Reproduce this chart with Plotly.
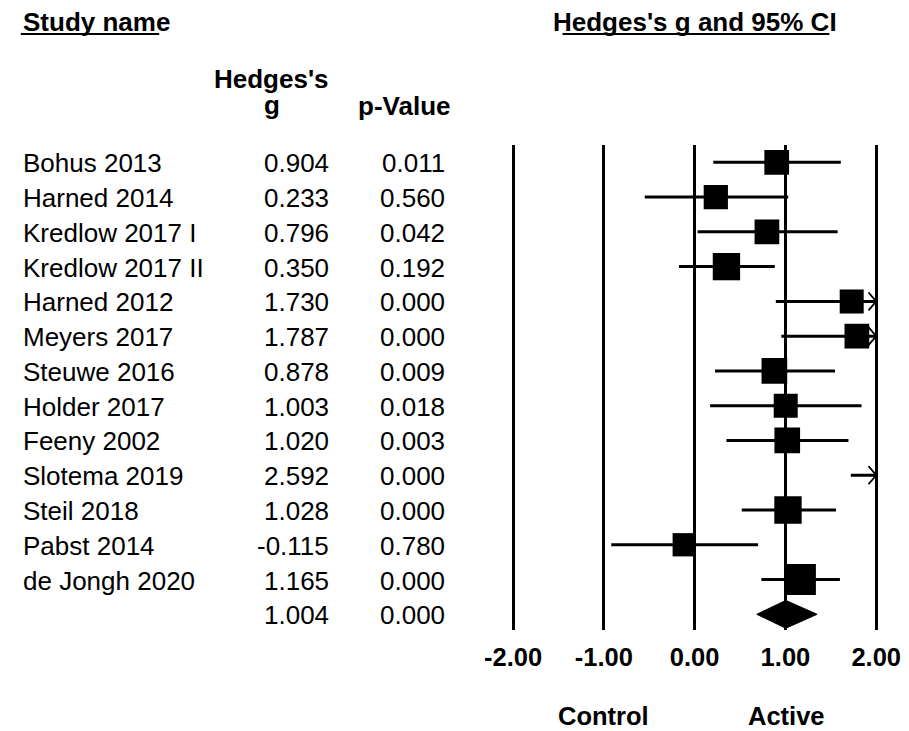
import plotly.graph_objects as go

# ---------------- data ----------------
studies = ["Bohus 2013", "Harned 2014", "Kredlow 2017 I", "Kredlow 2017 II",
           "Harned 2012", "Meyers 2017", "Steuwe 2016", "Holder 2017",
           "Feeny 2002", "Slotema 2019", "Steil 2018", "Pabst 2014",
           "de Jongh 2020"]
hedges_g = [0.904, 0.233, 0.796, 0.350, 1.730, 1.787, 0.878, 1.003,
            1.020, 2.592, 1.028, -0.115, 1.165]
p_values = [0.011, 0.560, 0.042, 0.192, 0.000, 0.000, 0.009, 0.018,
            0.003, 0.000, 0.000, 0.780, 0.000]
ci_lower = [0.205, -0.55, 0.032, -0.173, 0.894, 0.955, 0.224, 0.17,
            0.35, 1.72, 0.519, -0.919, 0.735]
ci_upper = [1.61, 1.03, 1.575, 0.883, 2.566, 2.619, 1.546, 1.838,
            1.694, 3.46, 1.557, 0.699, 1.60]
rel_weight = [1.03, 1.01, 1.03, 1.14, 1.00, 1.03, 1.07, 1.00,
              1.07, 1.00, 1.14, 0.97, 1.29]

summary_g = 1.004
summary_p = 0.000
summary_lower = 0.684
summary_upper = 1.349

tick_vals = [-2, -1, 0, 1, 2]
tick_text = ["-2.00", "-1.00", "0.00", "1.00", "2.00"]

# ---------------- layout helpers ----------------
W, H = 909, 731
FONT = "Liberation Sans, Arial, sans-serif"
X_MIN, X_MAX = -2.0, 2.0


def px(xp):
    return xp / W


def py(yp):
    return 1 - yp / H


n = len(studies)
rows = list(range(n))
summary_row = n

fig = go.Figure()

# CI lines (clipped at the axis limit) + open arrowheads where truncated
for i in rows:
    lo = max(ci_lower[i], X_MIN)
    hi = min(ci_upper[i], X_MAX)
    fig.add_trace(go.Scatter(x=[lo, hi], y=[i, i], mode="lines",
                             line=dict(color="black", width=3),
                             hoverinfo="skip", showlegend=False))
    if ci_upper[i] > X_MAX:
        dx, dy = 0.085, 0.26
        fig.add_trace(go.Scatter(x=[X_MAX - dx, X_MAX, X_MAX - dx],
                                 y=[i - dy, i, i + dy], mode="lines",
                                 line=dict(color="black", width=1.8),
                                 hoverinfo="skip", showlegend=False))

# study squares
fig.add_trace(go.Scatter(x=hedges_g, y=rows, mode="markers",
                         marker=dict(symbol="square", color="black", opacity=1,
                                     size=[24 * w for w in rel_weight],
                                     line=dict(width=0)),
                         hoverinfo="skip", showlegend=False))

# summary diamond
hh = 0.4
fig.add_trace(go.Scatter(
    x=[summary_lower, summary_g, summary_upper, summary_g, summary_lower],
    y=[summary_row, summary_row - hh, summary_row, summary_row + hh, summary_row],
    mode="lines", fill="toself", fillcolor="black",
    line=dict(color="black", width=1), hoverinfo="skip", showlegend=False))

annotations = []
BODY = 26
HEAD = 26
YSHIFT = -1
for i in rows:
    annotations.append(dict(x=px(10), y=i, xref="paper", yref="y",
                            text=studies[i], showarrow=False, xanchor="left",
                            yanchor="middle", yshift=YSHIFT,
                            font=dict(size=BODY, family=FONT, color="black")))
for i, (g, p) in enumerate(zip(hedges_g + [summary_g], p_values + [summary_p])):
    annotations.append(dict(x=px(326), y=i, xref="paper", yref="y",
                            text=f"{g:.3f}", showarrow=False, xanchor="right",
                            yanchor="middle", yshift=YSHIFT,
                            font=dict(size=BODY, family=FONT, color="black")))
    annotations.append(dict(x=px(444), y=i, xref="paper", yref="y",
                            text=f"{p:.3f}", showarrow=False, xanchor="right",
                            yanchor="middle", yshift=YSHIFT,
                            font=dict(size=BODY, family=FONT, color="black")))

headers = [
    ("<b>Study name</b>", 10, 22, "left", HEAD),
    ("<b>Hedges's g and 95% CI</b>", 697, 22, "center", HEAD),
    ("<b>Hedges's</b>", 265, 79, "center", HEAD),
    ("<b>g</b>", 266, 105, "center", HEAD),
    ("<b>p-Value</b>", 400, 106, "center", HEAD),
    ("<b>Control</b>", 604, 716, "center", 25.5),
    ("<b>Active</b>", 790, 716, "center", 25.5),
]
for txt, xp, yp, anc, fs in headers:
    annotations.append(dict(x=px(xp), y=py(yp), xref="paper", yref="paper",
                            text=txt, showarrow=False, xanchor=anc,
                            yanchor="middle",
                            font=dict(size=fs, family=FONT, color="black")))

# header underlines
shapes = [
    dict(type="line", xref="paper", yref="paper", x0=px(10), x1=px(151),
         y0=py(34), y1=py(34), line=dict(color="black", width=2)),
    dict(type="line", xref="paper", yref="paper", x0=px(562), x1=px(834),
         y0=py(34), y1=py(34), line=dict(color="black", width=2)),
]

# axes: -2 at ~511.7px, +2 at ~881.7px  -> 92.5 px / unit
unit = 92.5
zero_px = 696.7
xr = [-2.2, 2.2]
dom_x = [px(zero_px + xr[0] * unit), px(zero_px + xr[1] * unit)]
row0_px, row_step = 162.3, 34.77
top_px, bot_px = 145, 630
yr = [(bot_px - row0_px) / row_step, (top_px - row0_px) / row_step]

fig.update_layout(
    width=W, height=H, margin=dict(l=0, r=0, t=0, b=0, pad=0),
    paper_bgcolor="white", plot_bgcolor="white",
    xaxis=dict(domain=dom_x, range=xr, tickvals=tick_vals,
               ticktext=[f"<b>{t}</b>" for t in tick_text],
               showgrid=True, gridcolor="black", gridwidth=3,
               zeroline=False, showline=False, ticks="",
               ticklabelstandoff=9,
               tickfont=dict(size=25.5, family=FONT, color="black")),
    yaxis=dict(domain=[py(bot_px), py(top_px)], range=yr, visible=False,
               showgrid=False, zeroline=False),
    annotations=annotations, shapes=shapes, showlegend=False,
)

fig.write_html(
    "out.html",
    config={"displayModeBar": False},
    post_script="document.body.style.margin='0';document.body.style.padding='0';"
                "document.body.style.overflow='hidden';"
)
